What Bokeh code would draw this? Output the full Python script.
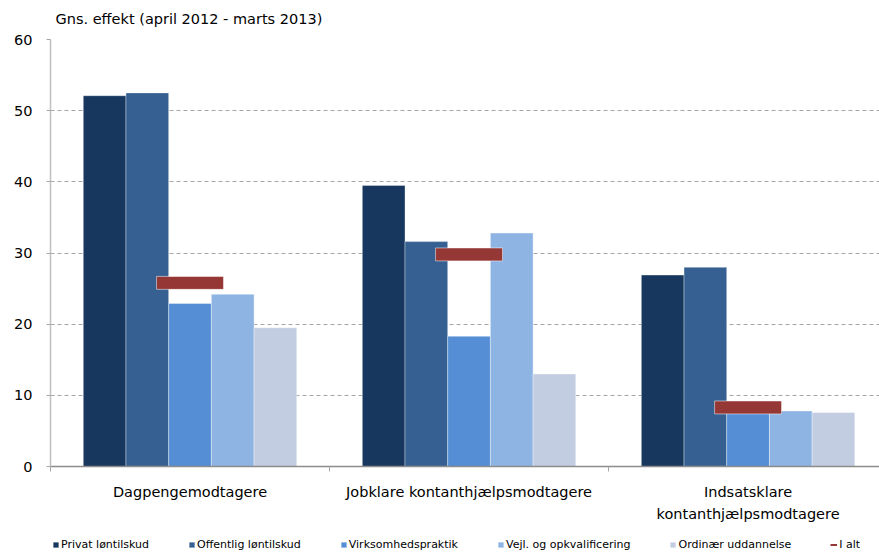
from bokeh.plotting import figure
from bokeh.layouts import column
from bokeh.models import Range1d, FixedTicker, Legend, LegendItem, ColumnDataSource, Label
from bokeh.transform import dodge
from bokeh.embed import file_html
from bokeh.resources import INLINE

# ---- data ----
categories = ["Dagpengemodtagere", "Jobklare kontanthjælpsmodtagere", "Indsatsklare\nkontanthjælpsmodtagere"]
series_names = ["Privat løntilskud", "Offentlig løntilskud", "Virksomhedspraktik",
                "Vejl. og opkvalificering", "Ordinær uddannelse"]
privat = [52.1, 39.5, 26.9]
offentlig = [52.5, 31.6, 28.0]
virksomhed = [22.9, 18.3, 8.0]
vejl = [24.2, 32.8, 7.8]
ordinaer = [19.5, 13.0, 7.6]
ialt = [25.8, 29.8, 8.3]
ialt_name = "I alt"
title_text = "Gns. effekt (april 2012 - marts 2013)"
y_ticks = [0, 10, 20, 30, 40, 50, 60]

colors = ["#17375E", "#366092", "#558ED5", "#8EB4E3", "#C3CDE2"]
ialt_color = "#953735"
FONT = "DejaVu Sans"

centers = [i + 0.5 for i in range(len(categories))]
src = ColumnDataSource(dict(x=centers, privat=privat, offentlig=offentlig,
                            virksomhed=virksomhed, vejl=vejl, ordinaer=ordinaer, ialt=ialt))
cols = ["privat", "offentlig", "virksomhed", "vejl", "ordinaer"]
bw = 0.153

# ---- header strip with the chart title ----
hdr = figure(width=879, height=30, x_range=Range1d(0, 1), y_range=Range1d(0, 1),
             x_axis_type=None, y_axis_type=None, output_backend="svg", toolbar_location=None,
             min_border_left=0, min_border_right=0, min_border_top=0, min_border_bottom=0)
hdr.outline_line_color = None
hdr.xgrid.visible = False
hdr.ygrid.visible = False
hdr.add_layout(Label(x=5, y=12, x_units="screen", y_units="screen", text=title_text,
                     text_font=FONT, text_font_size="14.5px", text_color="#000000",
                     text_align="left", text_baseline="alphabetic"))

# ---- main chart ----
p = figure(width=879, height=500, x_range=Range1d(0, 2.971), y_range=Range1d(0, 60),
           output_backend="svg", toolbar_location=None,
           min_border_left=50, min_border_right=0, min_border_top=9, min_border_bottom=64)
p.outline_line_color = None
p.background_fill_color = "white"

for k, (c, col) in enumerate(zip(cols, colors)):
    p.vbar(x=dodge("x", (k - 2) * bw, range=p.x_range), top=c, width=bw, bottom=0,
           source=src, fill_color=col, line_color="white", line_alpha=0.35, line_width=1)

p.rect(x="x", y="ialt", width=0.24, height=1.82, source=src,
       fill_color=ialt_color, line_color="white", line_alpha=0.5, line_width=1)

# y axis
p.yaxis.ticker = FixedTicker(ticks=y_ticks)
p.yaxis.axis_line_color = "#BFBFBF"
p.yaxis.axis_line_width = 1.5
p.yaxis.major_tick_out = 4
p.yaxis.major_tick_in = 0
p.yaxis.major_tick_line_color = "#A6A6A6"
p.yaxis.minor_tick_line_color = None
p.yaxis.major_label_standoff = 14
p.yaxis.major_label_text_font = FONT
p.yaxis.major_label_text_font_size = "14.5px"
p.yaxis.major_label_text_color = "#000000"

# x axis
p.xaxis.ticker = FixedTicker(ticks=centers, minor_ticks=[0, 1, 2, 3])
p.xaxis.major_label_overrides = {cx: lab for cx, lab in zip(centers, categories)}
p.xaxis.axis_line_color = "#8C8C8C"
p.xaxis.axis_line_width = 1.5
p.xaxis.major_tick_out = 0
p.xaxis.major_tick_in = 0
p.xaxis.minor_tick_out = 5
p.xaxis.minor_tick_in = 0
p.xaxis.minor_tick_line_color = "#A6A6A6"
p.xaxis.major_label_standoff = 12
p.xaxis.major_label_text_font = FONT
p.xaxis.major_label_text_font_size = "14.5px"
p.xaxis.major_label_text_color = "#000000"
p.xaxis.major_label_text_line_height = 1.38

# grid
p.xgrid.grid_line_color = None
p.ygrid.grid_line_color = "#A6A6A6"
p.ygrid.grid_line_dash = "4 3"
p.ygrid.grid_line_width = 1

# ---- legend strip (same data, drawn outside the visible range; only the legend shows) ----
lg = figure(width=879, height=23, x_range=Range1d(100, 101), y_range=Range1d(100, 101),
            x_axis_type=None, y_axis_type=None, output_backend="svg", toolbar_location=None,
            min_border_left=0, min_border_right=0, min_border_top=0, min_border_bottom=0)
lg.outline_line_color = None
lg.xgrid.visible = False
lg.ygrid.visible = False
items = []
for k, (c, col, name) in enumerate(zip(cols, colors, series_names)):
    r = lg.vbar(x="x", top=c, width=bw, bottom=0, source=src,
                fill_color=col, line_color="white", line_alpha=0.35, line_width=1)
    items.append(LegendItem(label=name, renderers=[r]))
rl = lg.line(x="x", y="ialt", source=src, line_color=ialt_color, line_width=2)
items.append(LegendItem(label=ialt_name, renderers=[rl]))

legend = Legend(items=items, orientation="horizontal", location=(2, 2),
                glyph_width=7, glyph_height=7, label_standoff=2, spacing=39,
                padding=0, margin=0, border_line_color=None, background_fill_alpha=0,
                label_text_font=FONT, label_text_font_size="11px", label_text_color="#000000",
                label_height=7, label_width=0)
lg.add_layout(legend)

layout = column(hdr, p, lg, spacing=0)
open("out.html", "w").write(file_html(layout, INLINE))
